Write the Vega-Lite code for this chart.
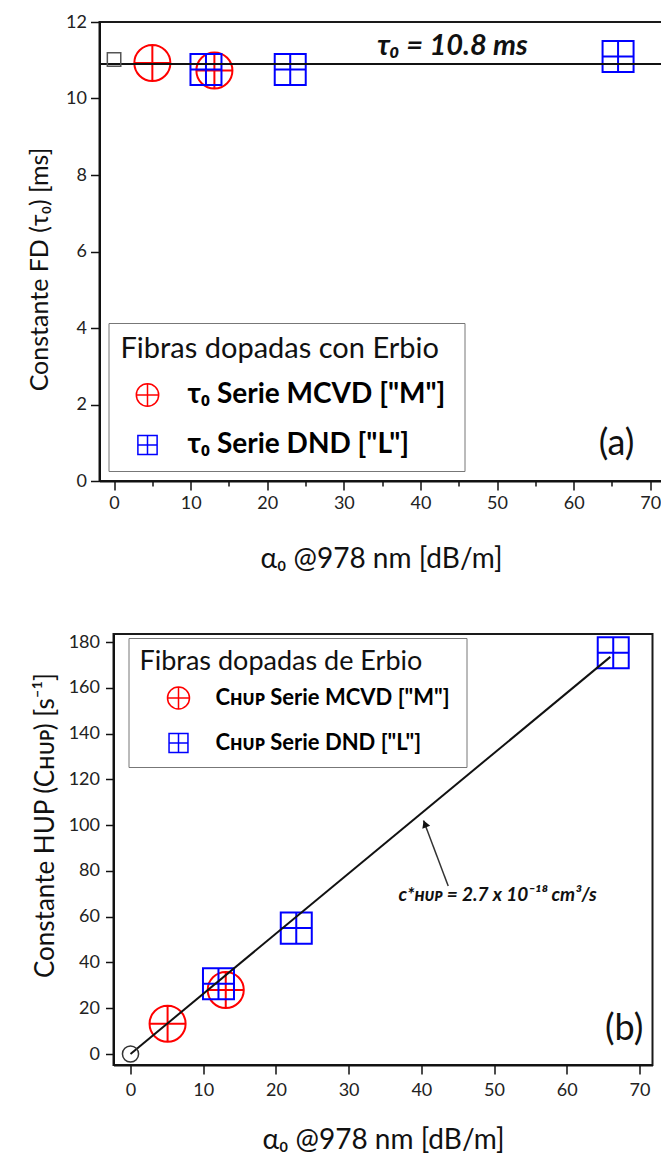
{
  "$schema": "https://vega.github.io/schema/vega-lite/v6.json",
  "background": "white",
  "padding": {"left": 25.5, "top": 12, "right": 0, "bottom": 0},
  "config": {
    "font": "Lato",
    "view": {"stroke": "#1a1a1a", "strokeWidth": 2},
    "axis": {
      "domainColor": "#111", "domainWidth": 2, "tickColor": "#111", "tickWidth": 1.5,
      "labelFont": "Lato", "labelFontSize": 18, "labelColor": "#222",
      "titleFont": "Lato", "titleFontSize": 25, "titleFontWeight": "normal", "titleColor": "#111",
      "grid": false, "labelOverlap": false, "labelFlush": false, "labelBound": false
    }
  },
  "datasets": {
    "tau": [
      {"serie": "τ₀  Serie MCVD [\"M\"]", "x": 5.0, "y": 10.93},
      {"serie": "τ₀  Serie MCVD [\"M\"]", "x": 13.1, "y": 10.73},
      {"serie": "τ₀  Serie DND [\"L\"]", "x": 12.0, "y": 10.76},
      {"serie": "τ₀  Serie DND [\"L\"]", "x": 23.0, "y": 10.76},
      {"serie": "τ₀  Serie DND [\"L\"]", "x": 65.8, "y": 11.1}
    ],
    "tauref": [{"x": 0, "y": 11.02}],
    "taufit": [{"y": 10.9}],
    "tauText": [{"x": 44.2, "y": 11.37, "t": "τ₀ = 10.8 ms"}],
    "aText": [{"x": 65.6, "y": 0.97, "t": "(a)"}],
    "chup": [
      {"serie": "Cʜᴜᴘ  Serie MCVD [\"M\"]", "x": 5.1, "y": 13.2},
      {"serie": "Cʜᴜᴘ  Serie MCVD [\"M\"]", "x": 13.1, "y": 28.0},
      {"serie": "Cʜᴜᴘ  Serie DND [\"L\"]", "x": 12.1, "y": 30.7},
      {"serie": "Cʜᴜᴘ  Serie DND [\"L\"]", "x": 22.8, "y": 55.0},
      {"serie": "Cʜᴜᴘ  Serie DND [\"L\"]", "x": 66.4, "y": 175.3}
    ],
    "chupref": [{"x": 0, "y": 0}],
    "chupfit": [{"x": 0, "y": 0}, {"x": 66, "y": 173.5}],
    "arrow": [{"x": 43.7, "y": 73.4, "x2": 40.3, "y2": 102.0}],
    "arrowHead": [{"x": 40.5, "y": 100.5}],
    "cText": [{"x": 50.5, "y": 69.5, "t": "c*ʜᴜᴘ = 2.7 x 10⁻¹⁸ cm³/s"}],
    "bText": [{"x": 67.9, "y": 10.9, "t": "(b)"}]
  },
  "vconcat": [
    {
      "width": 563,
      "height": 459,
      "layer": [
        {
          "data": {"name": "tau"},
          "mark": {"type": "point", "size": 1300, "filled": false, "strokeWidth": 2, "opacity": 1},
          "encoding": {
            "x": {
              "field": "x", "type": "quantitative",
              "scale": {"domain": [-1.9, 71.6], "nice": false, "zero": false},
              "axis": {
                "title": "α₀  @978 nm [dB/m]",
                "titleFontSize": 28,
                "values": [0, 5, 10, 15, 20, 25, 30, 35, 40, 45, 50, 55, 60, 65, 70],
                "labelExpr": "datum.value % 10 === 0 ? datum.label : ''",
                "tickSize": {"condition": {"test": "datum.value % 10 !== 0", "value": 5}, "value": 9},
                "labelPadding": 4,
                "titlePadding": 33
              }
            },
            "y": {
              "field": "y", "type": "quantitative",
              "scale": {"domain": [0, 12], "nice": false, "zero": false},
              "axis": {
                "title": "Constante FD (τ₀) [ms]",
                "values": [0, 1, 2, 3, 4, 5, 6, 7, 8, 9, 10, 11, 12],
                "labelExpr": "datum.value % 2 === 0 ? datum.label : ''",
                "tickSize": {"condition": {"test": "datum.value % 2 !== 0", "value": 5}, "value": 9},
                "labelPadding": 4,
                "titleX": -47.5,
                "titleY": 247
              }
            },
            "color": {
              "field": "serie", "type": "nominal",
              "scale": {"domain": ["τ₀  Serie MCVD [\"M\"]", "τ₀  Serie DND [\"L\"]"], "range": ["#ff0000", "#0000ff"]},
              "legend": {
                "orient": "none", "legendX": 9, "legendY": 301,
                "title": "Fibras dopadas con Erbio",
                "titleFont": "Lato", "titleFontSize": 29, "titleFontWeight": "normal", "titleColor": "#111",
                "labelFont": "Lato", "labelFontSize": 28, "labelFontWeight": "bold",
                "padding": 12, "strokeColor": "#777", "fillColor": "white",
                "symbolSize": 500, "symbolStrokeWidth": 1.5, "symbolOffset": 13, "labelOffset": 26,
                "rowPadding": 21, "titlePadding": 17, "labelLimit": 500, "titleLimit": 500,
                "encode": {"labels": {"update": {"fill": {"signal": "indexof(datum.label, 'MCVD') >= 0 ? '#ff0000' : '#0000ff'"}}}}
              }
            },
            "shape": {
              "field": "serie", "type": "nominal",
              "scale": {
                "domain": ["τ₀  Serie MCVD [\"M\"]", "τ₀  Serie DND [\"L\"]"],
                "range": [
                  "M-1,0A1,1,0,1,1,1,0A1,1,0,1,1,-1,0ZM-1,0L1,0M0,-1L0,1",
                  "M-0.86,-0.86L0.86,-0.86L0.86,0.86L-0.86,0.86ZM-0.86,0L0.86,0M0,-0.86L0,0.86"
                ]
              }
            }
          }
        },
        {
          "data": {"name": "taufit"},
          "mark": {"type": "rule", "color": "#111", "strokeWidth": 2},
          "encoding": {"y": {"field": "y", "type": "quantitative"}}
        },
        {
          "data": {"name": "tauref"},
          "mark": {"type": "point", "shape": "square", "size": 180, "filled": false, "stroke": "#555", "strokeWidth": 1.5, "opacity": 1},
          "encoding": {
            "x": {"field": "x", "type": "quantitative"},
            "y": {"field": "y", "type": "quantitative"}
          }
        },
        {
          "data": {"name": "tauText"},
          "mark": {"type": "text", "font": "Lato", "fontSize": 29, "fontStyle": "italic", "fontWeight": "bold", "color": "#111"},
          "encoding": {
            "x": {"field": "x", "type": "quantitative"},
            "y": {"field": "y", "type": "quantitative"},
            "text": {"field": "t"}
          }
        },
        {
          "data": {"name": "aText"},
          "mark": {"type": "text", "font": "Lato", "fontSize": 36, "color": "#111"},
          "encoding": {
            "x": {"field": "x", "type": "quantitative"},
            "y": {"field": "y", "type": "quantitative"},
            "text": {"field": "t"}
          }
        }
      ]
    },
    {
      "spacing": -72,
      "hconcat": [
        {
          "width": 1,
          "height": 1,
          "view": {"stroke": null},
          "data": {"values": [{"k": 1}]},
          "mark": {"type": "point", "opacity": 0}
        },
        {
          "width": 539,
          "height": 431,
          "layer": [
            {
              "data": {"name": "chup"},
              "mark": {"type": "point", "size": 1300, "filled": false, "strokeWidth": 2, "opacity": 1},
              "encoding": {
                "x": {
                  "field": "x", "type": "quantitative",
                  "scale": {"domain": [-2.34, 71.8], "nice": false, "zero": false},
                  "axis": {
                    "title": "α₀  @978 nm [dB/m]",
                    "titleFontSize": 28,
                    "values": [0, 5, 10, 15, 20, 25, 30, 35, 40, 45, 50, 55, 60, 65, 70],
                    "labelExpr": "datum.value % 10 === 0 ? datum.label : ''",
                    "tickSize": {"condition": {"test": "datum.value % 10 !== 0", "value": 5}, "value": 9},
                    "labelPadding": 7,
                    "titlePadding": 27
                  }
                },
                "y": {
                  "field": "y", "type": "quantitative",
                  "scale": {"domain": [-4.8, 183.5], "nice": false, "zero": false},
                  "axis": {
                    "title": "Constante HUP (Cʜᴜᴘ)  [s⁻¹]",
                    "titleFontSize": 26,
                    "values": [0, 10, 20, 30, 40, 50, 60, 70, 80, 90, 100, 110, 120, 130, 140, 150, 160, 170, 180],
                    "labelExpr": "datum.value % 20 === 0 ? datum.label : ''",
                    "tickSize": {"condition": {"test": "datum.value % 20 !== 0", "value": 5}, "value": 8},
                    "labelPadding": 6,
                    "titleX": -55,
                    "titleY": 191
                  }
                },
                "color": {
                  "field": "serie", "type": "nominal",
                  "scale": {"domain": ["Cʜᴜᴘ  Serie MCVD [\"M\"]", "Cʜᴜᴘ  Serie DND [\"L\"]"], "range": ["#ff0000", "#0000ff"]},
                  "legend": {
                    "orient": "none", "legendX": 29, "legendY": 4,
                    "title": "\u00a0\u00a0Fibras dopadas de Erbio\u00a0\u00a0\u00a0\u00a0",
                    "titleFont": "Lato", "titleFontSize": 27, "titleFontWeight": "normal", "titleColor": "#111",
                    "labelFont": "Lato", "labelFontSize": 22, "labelFontWeight": "bold",
                    "padding": 11, "strokeColor": "#777", "fillColor": "white",
                    "symbolSize": 484, "symbolStrokeWidth": 1.5, "symbolOffset": 27, "labelOffset": 25,
                    "rowPadding": 18, "titlePadding": 10, "labelLimit": 500, "titleLimit": 600,
                    "encode": {"labels": {"update": {"fill": {"signal": "indexof(datum.label, 'MCVD') >= 0 ? '#ff0000' : '#0000ff'"}}}}
                  }
                },
                "shape": {
                  "field": "serie", "type": "nominal",
                  "scale": {
                    "domain": ["Cʜᴜᴘ  Serie MCVD [\"M\"]", "Cʜᴜᴘ  Serie DND [\"L\"]"],
                    "range": [
                      "M-1,0A1,1,0,1,1,1,0A1,1,0,1,1,-1,0ZM-1,0L1,0M0,-1L0,1",
                      "M-0.86,-0.86L0.86,-0.86L0.86,0.86L-0.86,0.86ZM-0.86,0L0.86,0M0,-0.86L0,0.86"
                    ]
                  }
                }
              }
            },
            {
              "data": {"name": "chupfit"},
              "mark": {"type": "line", "color": "#111", "strokeWidth": 2},
              "encoding": {
                "x": {"field": "x", "type": "quantitative"},
                "y": {"field": "y", "type": "quantitative"}
              }
            },
            {
              "data": {"name": "chupref"},
              "mark": {"type": "point", "shape": "circle", "size": 260, "filled": false, "stroke": "#333", "strokeWidth": 1.5, "opacity": 1},
              "encoding": {
                "x": {"field": "x", "type": "quantitative"},
                "y": {"field": "y", "type": "quantitative"}
              }
            },
            {
              "data": {"name": "arrow"},
              "mark": {"type": "rule", "color": "#333", "strokeWidth": 1.5},
              "encoding": {
                "x": {"field": "x", "type": "quantitative"},
                "y": {"field": "y", "type": "quantitative"},
                "x2": {"field": "x2"},
                "y2": {"field": "y2"}
              }
            },
            {
              "data": {"name": "arrowHead"},
              "mark": {"type": "point", "shape": "triangle-up", "size": 70, "filled": true, "color": "#111", "angle": -21, "opacity": 1},
              "encoding": {
                "x": {"field": "x", "type": "quantitative"},
                "y": {"field": "y", "type": "quantitative"}
              }
            },
            {
              "data": {"name": "cText"},
              "mark": {"type": "text", "font": "Lato", "fontSize": 19, "fontStyle": "italic", "fontWeight": "bold", "color": "#111"},
              "encoding": {
                "x": {"field": "x", "type": "quantitative"},
                "y": {"field": "y", "type": "quantitative"},
                "text": {"field": "t"}
              }
            },
            {
              "data": {"name": "bText"},
              "mark": {"type": "text", "font": "Lato", "fontSize": 36, "color": "#111"},
              "encoding": {
                "x": {"field": "x", "type": "quantitative"},
                "y": {"field": "y", "type": "quantitative"},
                "text": {"field": "t"}
              }
            }
          ]
        }
      ]
    }
  ],
  "spacing": 57,
  "resolve": {"scale": {"color": "independent", "shape": "independent"}, "legend": {"color": "independent", "shape": "independent"}}
}
